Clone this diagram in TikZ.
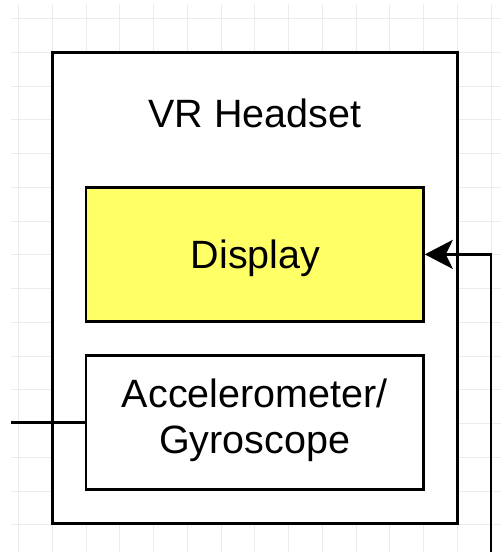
\documentclass[tikz,border=0pt]{standalone}
\usepackage{fontspec}
\setmainfont{Liberation Sans}
\usetikzlibrary{arrows.meta}
\definecolor{gridgrey}{RGB}{236,236,236}
\definecolor{displayyellow}{RGB}{255,255,102}
\begin{document}
\begin{tikzpicture}[x=1pt,y=-1pt,
  gridline/.style={draw=gridgrey,line width=0.9pt},
  block/.style={draw=black,line width=2.6pt,fill=white,inner sep=0pt,
    minimum width=337.5pt,minimum height=134.25pt},
  label/.style={inner sep=0pt,anchor=base,font=\fontsize{39.5}{46}\selectfont},
  wire/.style={draw=black,line width=2.6pt}]
\useasboundingbox (0,0) rectangle (501,552);
\fill[white] (0,0) rectangle (501,552);
% background grid
\foreach \i in {0,...,14}
  \draw[gridline] ({18.5+33.75*\i},4) -- ({18.5+33.75*\i},552);
\foreach \j in {0,...,15}
  \draw[gridline] (11,{18.5+33.75*\j}) -- (501,{18.5+33.75*\j});
% headset enclosure
\node[draw=black,line width=2.6pt,fill=white,inner sep=0pt,
  minimum width=405pt,minimum height=471pt] (headset) at (254.75,287.75) {};
\node[label] (title) at (254.75,127) {VR Headset};
% inner blocks
\node[block,fill=displayyellow] (display) at (254.75,254.375) {};
\node[label] (displaytext) at (255.5,268) {Display};
\node[block] (sensor) at (254.75,422.375) {};
\node[label] (sensortop) at (254.75,407) {Accelerometer/};
\node[label] (sensorbottom) at (254.75,453) {Gyroscope};
% connectors
\coordinate (sensorin) at (11,422.375);
\coordinate (feed) at (491,552);
\draw[wire] (sensorin) -- (sensor.west);
\draw[wire,-{Stealth[length=28pt,width=29pt,inset=7pt]}] (feed) |- (display.east);
\end{tikzpicture}
\end{document}
